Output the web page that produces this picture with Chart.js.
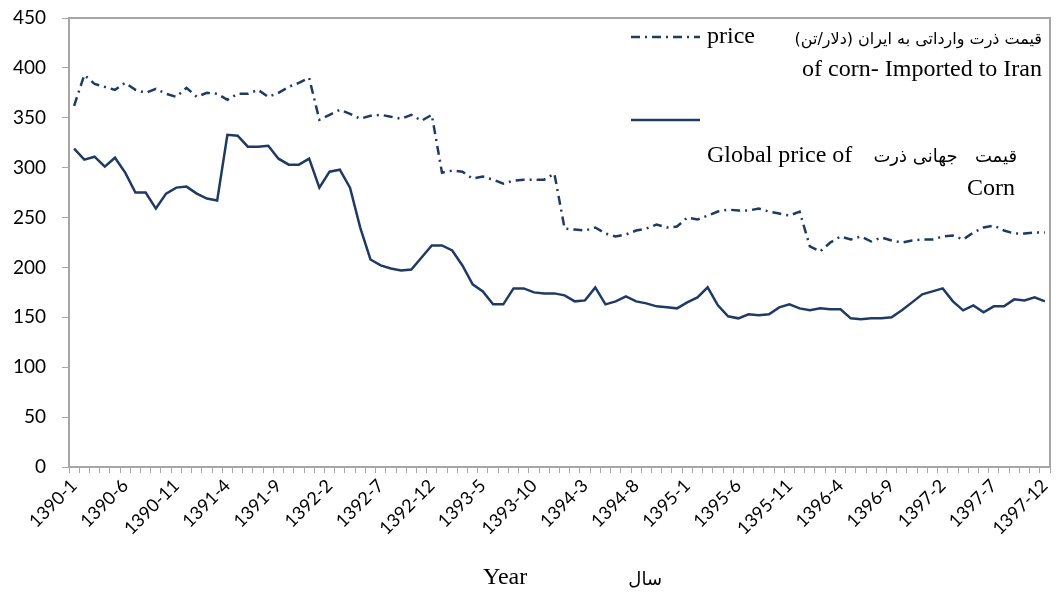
<!DOCTYPE html>
<html>
<head>
<meta charset="utf-8">
<script src="https://cdn.jsdelivr.net/npm/chart.js@4"></script>
<style>
  body { margin: 0; background: #fff; }
</style>
</head>
<body>
<canvas id="ChartCornPrice" width="1056" height="593"></canvas>
<script>
// monthly, 1390-1 .. 1397-12
var years = [1390, 1391, 1392, 1393, 1394, 1395, 1396, 1397];
var months = [1, 2, 3, 4, 5, 6, 7, 8, 9, 10, 11, 12];

// import price of corn to Iran (dash-dot)
var importPrice = [
    362, 393, 384, 381, 378, 385, 378, 375, 379, 374, 371, 380,
    371, 375, 374, 368, 374, 374, 378, 371, 375, 381, 385, 390,
    348, 353, 358, 354, 349, 352, 353, 351, 349, 353, 347, 353,
    295, 297, 296, 289, 291, 288, 284, 287, 288, 288, 288, 294,
    239, 238, 237, 240, 234, 231, 233, 237, 239, 243, 240, 241,
    250, 248, 252, 256, 258, 257, 257, 259, 256, 254, 252, 256,
    221, 216, 225, 231, 228, 231, 226, 230, 227, 225, 227, 228,
    228, 231, 232, 228, 235, 240, 242, 237, 234, 234, 235, 235
];

// global price of corn (solid)
var globalPrice = [
    319, 308, 311, 301, 310, 295, 275, 275, 259, 274, 280, 281,
    274, 269, 267, 333, 332, 321, 321, 322, 309, 303, 303, 309,
    280, 296, 298, 280, 240, 208, 202, 199, 197, 198, 210, 222,
    222, 217, 202, 183, 176, 163, 163, 179, 179, 175, 174, 174,
    172, 166, 167, 180, 163, 166, 171, 166, 164, 161, 160, 159,
    165, 170, 180, 162, 151, 149, 153, 152, 153, 160, 163, 159,
    157, 159, 158, 158, 149, 148, 149, 149, 150, 157, 165, 173,
    176, 179, 166, 157, 162, 155, 161, 161, 168, 167, 170, 166
];

var labels = [];
years.forEach(function (y) {
    months.forEach(function (m) { labels.push(y + '-' + m); });
});

var navy = '#1f3a64';
var axisGray = '#a6a6a6';
var serif = '"Liberation Serif", "DejaVu Serif", serif';
var persian = '"DejaVu Sans", sans-serif';

var extras = {
    id: 'extras',
    afterDraw: function (chart) {
        var ctx = chart.ctx, a = chart.chartArea;
        ctx.save();
        // frame top/right
        ctx.strokeStyle = axisGray;
        ctx.lineWidth = 2;
        ctx.beginPath();
        ctx.moveTo(a.left, a.top);
        ctx.lineTo(a.right, a.top);
        ctx.lineTo(a.right, a.bottom);
        ctx.stroke();

        // legend samples
        ctx.strokeStyle = navy;
        ctx.lineWidth = 2.5;
        ctx.setLineDash([9, 5, 2, 5]);
        ctx.beginPath(); ctx.moveTo(631, 37); ctx.lineTo(700, 37); ctx.stroke();
        ctx.setLineDash([]);
        ctx.beginPath(); ctx.moveTo(631, 120); ctx.lineTo(700, 120); ctx.stroke();

        ctx.fillStyle = '#000';
        ctx.textBaseline = 'middle';

        ctx.font = '24px ' + serif;
        ctx.textAlign = 'left';
        ctx.fillText('price', 707, 37);
        ctx.fillText('Global price of', 707, 156);
        ctx.fillText('Year', 483, 578);
        ctx.textAlign = 'right';
        ctx.fillText('of corn- Imported to Iran', 1042, 70);
        ctx.fillText('Corn', 1015, 189);

        ctx.font = '16px ' + persian;
        ctx.direction = 'rtl';
        ctx.textAlign = 'right';
        ctx.fillText('قیمت ذرت وارداتی به ایران (دلار/تن)', 1042, 40);
        ctx.font = '18px ' + persian;
        ctx.fillText('قیمت   جهانی ذرت', 1017, 157);
        ctx.fillText('سال', 662, 580);
        ctx.restore();
    }
};

var ctx = document.getElementById('ChartCornPrice').getContext('2d');

var graph = new Chart(ctx, {
    type: 'line',
    data: {
        labels: labels,
        datasets: [
            {
                label: 'Import price',
                data: importPrice,
                borderColor: navy,
                borderWidth: 2.5,
                borderDash: [9, 5, 2, 5],
                pointRadius: 0,
                tension: 0,
                fill: false
            },
            {
                label: 'Global price',
                data: globalPrice,
                borderColor: navy,
                borderWidth: 2.5,
                pointRadius: 0,
                tension: 0,
                fill: false
            }
        ]
    },
    options: {
        responsive: false,
        animation: false,
        layout: { padding: { top: 18, right: 6, left: 0, bottom: 0 } },
        plugins: {
            legend: { display: false },
            title: { display: false },
            tooltip: { enabled: false }
        },
        scales: {
            x: {
                offset: true,
                grid: {
                    offset: true,
                    drawOnChartArea: false,
                    drawTicks: true,
                    tickLength: 6,
                    color: axisGray
                },
                border: { display: true, color: axisGray, width: 2 },
                ticks: {
                    autoSkip: false,
                    maxRotation: 45,
                    minRotation: 45,
                    padding: 2,
                    color: '#000',
                    font: { family: 'Lato, "Liberation Sans", sans-serif', size: 18 },
                    callback: function (value, index) {
                        return index % 5 === 0 ? labels[index] : '';
                    }
                },
                afterFit: function (scale) {
                    scale.height = 126;
                    scale.paddingLeft = 0;
                    scale.paddingRight = 0;
                }
            },
            y: {
                min: 0,
                max: 450,
                ticks: {
                    stepSize: 50,
                    padding: 16,
                    color: '#000',
                    font: { family: 'Lato, "Liberation Sans", sans-serif', size: 19 }
                },
                grid: {
                    drawOnChartArea: false,
                    drawTicks: true,
                    tickLength: 7,
                    color: axisGray
                },
                border: { display: true, color: axisGray, width: 2 },
                afterFit: function (scale) {
                    scale.width = 69;
                    scale.paddingTop = 0;
                    scale.paddingBottom = 0;
                }
            }
        }
    },
    plugins: [extras]
});
</script>
</body>
</html>
